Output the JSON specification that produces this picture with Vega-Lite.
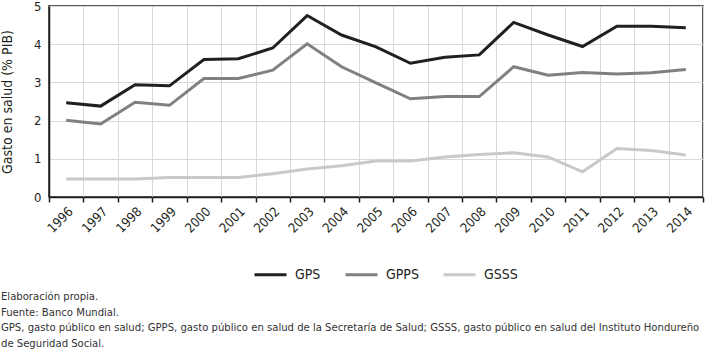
{
  "$schema": "https://vega.github.io/schema/vega-lite/v6.json",
  "autosize": {"type": "none"},
  "width": 654,
  "height": 191,
  "padding": {"left": 49, "top": 6, "right": 4, "bottom": 156},
  "background": "white",
  "config": {
    "font": "'DejaVu Sans Condensed', 'Roboto Condensed', 'Liberation Sans Narrow', 'Liberation Sans', sans-serif",
    "view": {"stroke": "#231f20", "strokeWidth": 1.5}
  },
  "title": {
    "text": [
      "Elaboración propia.",
      "Fuente: Banco Mundial.",
      "GPS, gasto público en salud; GPPS, gasto público en salud de la Secretaría de Salud; GSSS, gasto público en salud del Instituto Hondureño",
      "de Seguridad Social."
    ],
    "orient": "bottom",
    "anchor": "start",
    "frame": "group",
    "dx": -48,
    "offset": 9,
    "font": "'DejaVu Sans Condensed', 'Roboto Condensed', 'Liberation Sans Narrow', 'Liberation Sans', sans-serif",
    "fontSize": 11.2,
    "fontWeight": "normal",
    "lineHeight": 15.7,
    "color": "#333333"
  },
  "data": {
    "values": [
      {"year": "1996", "serie": "GPS", "valor": 2.47},
      {"year": "1997", "serie": "GPS", "valor": 2.38},
      {"year": "1998", "serie": "GPS", "valor": 2.94},
      {"year": "1999", "serie": "GPS", "valor": 2.91},
      {"year": "2000", "serie": "GPS", "valor": 3.60},
      {"year": "2001", "serie": "GPS", "valor": 3.62},
      {"year": "2002", "serie": "GPS", "valor": 3.90},
      {"year": "2003", "serie": "GPS", "valor": 4.75},
      {"year": "2004", "serie": "GPS", "valor": 4.24},
      {"year": "2005", "serie": "GPS", "valor": 3.93},
      {"year": "2006", "serie": "GPS", "valor": 3.50},
      {"year": "2007", "serie": "GPS", "valor": 3.66},
      {"year": "2008", "serie": "GPS", "valor": 3.72},
      {"year": "2009", "serie": "GPS", "valor": 4.57},
      {"year": "2010", "serie": "GPS", "valor": 4.24},
      {"year": "2011", "serie": "GPS", "valor": 3.94},
      {"year": "2012", "serie": "GPS", "valor": 4.47},
      {"year": "2013", "serie": "GPS", "valor": 4.47},
      {"year": "2014", "serie": "GPS", "valor": 4.43},
      {"year": "1996", "serie": "GPPS", "valor": 2.01},
      {"year": "1997", "serie": "GPPS", "valor": 1.91},
      {"year": "1998", "serie": "GPPS", "valor": 2.48},
      {"year": "1999", "serie": "GPPS", "valor": 2.40},
      {"year": "2000", "serie": "GPPS", "valor": 3.10},
      {"year": "2001", "serie": "GPPS", "valor": 3.10},
      {"year": "2002", "serie": "GPPS", "valor": 3.32},
      {"year": "2003", "serie": "GPPS", "valor": 4.01},
      {"year": "2004", "serie": "GPPS", "valor": 3.41},
      {"year": "2005", "serie": "GPPS", "valor": 2.99},
      {"year": "2006", "serie": "GPPS", "valor": 2.57},
      {"year": "2007", "serie": "GPPS", "valor": 2.63},
      {"year": "2008", "serie": "GPPS", "valor": 2.63},
      {"year": "2009", "serie": "GPPS", "valor": 3.41},
      {"year": "2010", "serie": "GPPS", "valor": 3.19},
      {"year": "2011", "serie": "GPPS", "valor": 3.26},
      {"year": "2012", "serie": "GPPS", "valor": 3.22},
      {"year": "2013", "serie": "GPPS", "valor": 3.25},
      {"year": "2014", "serie": "GPPS", "valor": 3.34},
      {"year": "1996", "serie": "GSSS", "valor": 0.47},
      {"year": "1997", "serie": "GSSS", "valor": 0.47},
      {"year": "1998", "serie": "GSSS", "valor": 0.47},
      {"year": "1999", "serie": "GSSS", "valor": 0.51},
      {"year": "2000", "serie": "GSSS", "valor": 0.51},
      {"year": "2001", "serie": "GSSS", "valor": 0.51},
      {"year": "2002", "serie": "GSSS", "valor": 0.61},
      {"year": "2003", "serie": "GSSS", "valor": 0.73},
      {"year": "2004", "serie": "GSSS", "valor": 0.82},
      {"year": "2005", "serie": "GSSS", "valor": 0.94},
      {"year": "2006", "serie": "GSSS", "valor": 0.94},
      {"year": "2007", "serie": "GSSS", "valor": 1.05},
      {"year": "2008", "serie": "GSSS", "valor": 1.11},
      {"year": "2009", "serie": "GSSS", "valor": 1.16},
      {"year": "2010", "serie": "GSSS", "valor": 1.05},
      {"year": "2011", "serie": "GSSS", "valor": 0.66},
      {"year": "2012", "serie": "GSSS", "valor": 1.27},
      {"year": "2013", "serie": "GSSS", "valor": 1.22},
      {"year": "2014", "serie": "GSSS", "valor": 1.10}
    ]
  },
  "mark": {"type": "line", "strokeWidth": 3, "strokeJoin": "miter"},
  "encoding": {
    "x": {
      "field": "year",
      "type": "ordinal",
      "bandPosition": 0.5,
      "scale": {"type": "band", "paddingInner": 0, "paddingOuter": 0},
      "axis": {
        "title": null,
        "tickBand": "extent",
        "grid": true,
        "gridColor": "#d9d9d9",
        "domainColor": "#231f20",
        "domainWidth": 1.5,
        "tickColor": "#231f20",
        "tickWidth": 1.5,
        "tickSize": 5,
        "labelAngle": -45,
        "labelAlign": "right",
        "labelBaseline": "top",
        "labelPadding": 3,
        "labelFontSize": 13,
        "labelColor": "#231f20"
      }
    },
    "y": {
      "field": "valor",
      "type": "quantitative",
      "scale": {"domain": [0, 5], "nice": false},
      "axis": {
        "title": "Gasto en salud (% PIB)",
        "titleFontSize": 14,
        "titleFontWeight": "normal",
        "titleColor": "#231f20",
        "titlePadding": 19,
        "values": [0, 1, 2, 3, 4, 5],
        "ticks": false,
        "labelPadding": 8,
        "labelFontSize": 13,
        "labelColor": "#231f20",
        "domainColor": "#231f20",
        "domainWidth": 1.5,
        "gridColor": "#d9d9d9"
      }
    },
    "color": {
      "field": "serie",
      "type": "nominal",
      "sort": ["GPS", "GPPS", "GSSS"],
      "scale": {"domain": ["GPS", "GPPS", "GSSS"], "range": ["#231f20", "#808080", "#c8c9cb"]},
      "legend": {
        "title": null,
        "orient": "none",
        "legendX": 204,
        "legendY": 251,
        "direction": "horizontal",
        "symbolType": "stroke",
        "symbolSize": 1024,
        "symbolStrokeWidth": 3,
        "labelFontSize": 14,
        "labelColor": "#231f20",
        "labelOffset": 7,
        "columnPadding": 18
      }
    }
  }
}
